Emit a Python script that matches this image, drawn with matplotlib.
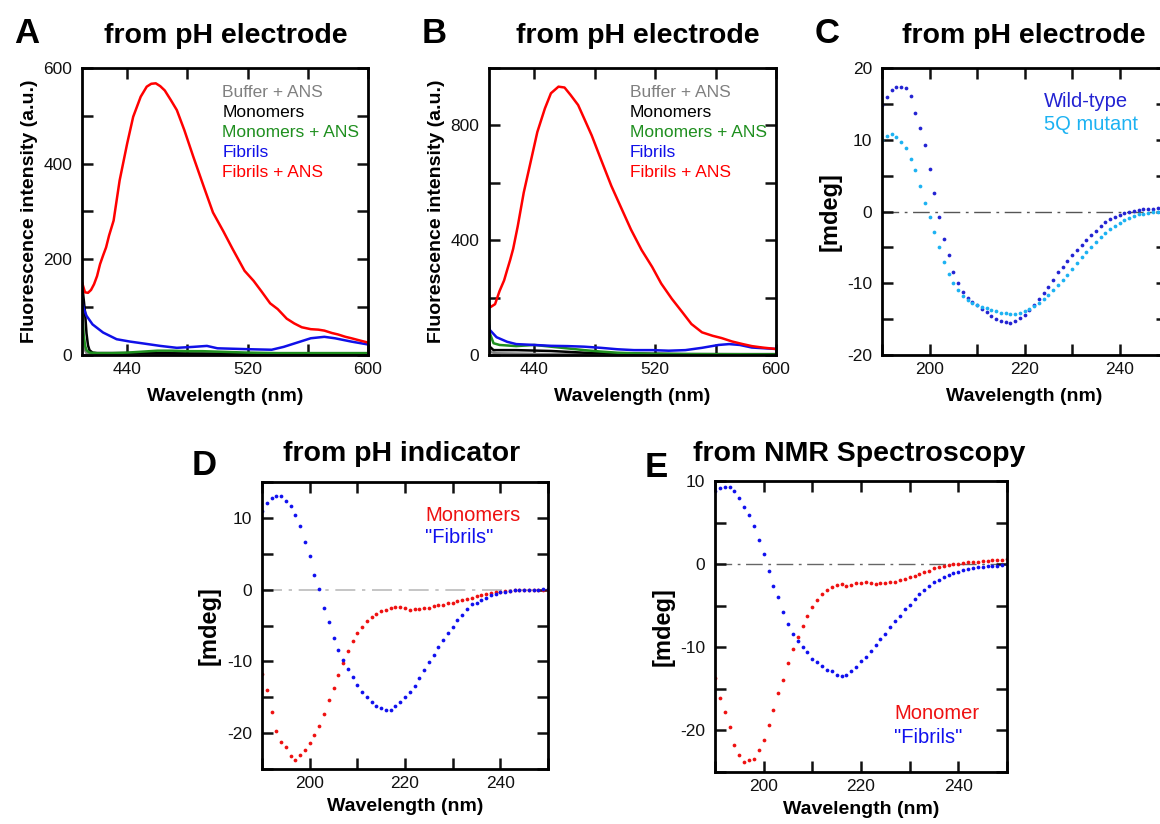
import numpy as np
import matplotlib.pyplot as plt
from matplotlib.ticker import MultipleLocator

plt.rcParams['font.family'] = ['Liberation Sans', 'DejaVu Sans']
plt.rcParams['axes.unicode_minus'] = False

W, H = 1160, 824

# ---- panel A: fluorescence, from pH electrode ----
a_red_wl = [410, 412, 414, 416, 418, 420, 422, 424, 426, 428, 431, 435, 440, 444, 449, 453, 456, 459,
            462, 465, 469, 473, 478, 484, 491, 497, 504, 510, 518, 524, 529, 535, 540, 546, 551, 556,
            562, 567, 571, 576, 580, 585, 589, 595, 600]
a_red = [152, 131, 130, 136, 148, 165, 190, 208, 225, 250, 281, 365, 442, 498, 540, 561, 567, 568,
         562, 553, 533, 512, 470, 414, 351, 298, 258, 222, 176, 155, 134, 108, 96, 76, 66, 58,
         54, 53, 51, 46, 43, 38, 35, 30, 26]
a_blue_wl = [409.5, 411, 413, 417, 424, 433, 442, 451, 462, 473, 484, 493, 500, 511, 522, 536, 544,
             553, 562, 571, 578, 589, 600]
a_blue = [127, 99, 82, 64, 47, 33, 28, 24, 19, 15, 17, 19, 14, 13, 12, 11, 17, 26, 35, 38, 35, 28, 22]
a_green_wl = [410, 411, 412, 413, 415, 420, 430, 440, 450, 460, 470, 480, 490, 500, 520, 540, 560, 580, 600]
a_green = [96, 45, 20, 10, 5, 4, 4, 5, 7, 9, 9, 8, 8, 7, 5, 4, 4, 4, 4]
a_black_wl = [410, 411, 412, 413, 414, 415, 417, 420, 450, 500, 550, 600]
a_black = [150, 120, 90, 45, 20, 10, 5, 4, 4, 3, 3, 2]
a_gray_wl = [410, 411, 412, 413, 420, 500, 600]
a_gray = [120, 40, 10, 4, 2, 2, 2]

# ---- panel B ----
b_red_wl = [409, 411, 414, 417, 420, 422, 424, 426, 429, 433, 438, 442, 447, 451, 456, 460, 464, 469,
            473, 478, 484, 491, 498, 504, 511, 518, 524, 531, 538, 544, 551, 558, 564, 571, 578, 584,
            591, 600]
b_red = [192, 167, 177, 223, 260, 296, 331, 370, 448, 566, 683, 777, 859, 912, 935, 932, 906, 871,
         824, 765, 683, 589, 507, 437, 366, 307, 249, 196, 149, 108, 79, 67, 59, 47, 38, 31, 26, 21]
b_blue_wl = [409, 410.6, 415, 422, 428, 440, 451, 462, 473, 484, 495, 506, 518, 529, 540, 551, 562,
             569, 576, 584, 600]
b_blue = [133, 87, 62, 46, 38, 35, 32, 31, 29, 25, 20, 17, 17, 15, 17, 25, 35, 38, 35, 26, 21]
b_green_wl = [409, 410.6, 413, 417, 428, 440, 451, 462, 473, 484, 495, 518, 560, 600]
b_green = [174, 75, 41, 35, 31, 35, 29, 23, 17, 12, 8, 4, 3, 2]
b_black_wl = [409, 410.5, 413, 428, 451, 473, 495, 540, 600]
b_black = [87, 29, 17, 17, 14, 8, 6, 3, 3]
b_gray_wl = [409, 411, 415, 450, 600]
b_gray = [60, 10, 6, 3, 2]

# ---- CD spectra, 190-250 nm in 1 nm steps ----
cd_wl = np.arange(190, 251)
c_wt = [14.9, 16.0, 16.9, 17.3, 17.3, 17.2, 16.1, 13.7, 11.6, 9.2, 5.9, 2.6, -0.7, -3.9, -6.1, -8.5,
        -10.0, -11.2, -12.0, -12.6, -13.1, -13.6, -14.0, -14.6, -15.0, -15.3, -15.4, -15.5, -15.2,
        -14.9, -14.4, -13.7, -13.0, -12.2, -11.4, -10.5, -9.5, -8.5, -7.7, -6.9, -6.1, -5.3, -4.7,
        -4.0, -3.3, -2.7, -2.0, -1.5, -1.1, -0.7, -0.5, -0.2, 0.0, 0.1, 0.2, 0.3, 0.4, 0.4, 0.5,
        0.5, 0.5]
c_5q = [10.0, 10.5, 10.8, 10.4, 9.7, 8.8, 7.3, 5.8, 3.5, 1.2, -0.8, -2.8, -5.0, -7.0, -8.7, -10.0,
        -11.0, -11.8, -12.4, -12.8, -13.1, -13.3, -13.5, -13.7, -13.9, -14.1, -14.2, -14.3, -14.3,
        -14.1, -13.9, -13.6, -13.2, -12.7, -12.2, -11.6, -11.0, -10.3, -9.5, -8.8, -8.0, -7.2,
        -6.4, -5.6, -4.9, -4.2, -3.6, -3.0, -2.5, -2.0, -1.6, -1.2, -0.9, -0.6, -0.4, -0.3, -0.2,
        -0.1, 0.0, 0.0, 0.0]
d_mono = [-11.8, -14.0, -17.1, -19.7, -21.3, -22.0, -23.2, -23.8, -23.0, -22.3, -21.4, -20.3, -19.0,
          -17.4, -15.4, -13.7, -11.9, -10.2, -8.6, -7.2, -6.0, -5.2, -4.4, -3.8, -3.4, -3.0, -2.8,
          -2.6, -2.4, -2.4, -2.6, -2.8, -2.7, -2.7, -2.6, -2.5, -2.3, -2.2, -2.1, -1.9, -1.8, -1.6,
          -1.4, -1.3, -1.1, -0.9, -0.7, -0.6, -0.5, -0.4, -0.3, -0.2, -0.2, -0.1, -0.1, 0.0, 0.0,
          0.0, 0.0, 0.0, 0.0]
d_fib = [10.9, 12.1, 12.8, 13.1, 13.1, 12.3, 11.7, 10.4, 8.9, 6.6, 4.7, 2.0, 0.1, -2.5, -4.5, -6.7,
         -8.4, -9.8, -11.1, -12.2, -13.3, -14.3, -15.0, -15.7, -16.2, -16.5, -16.8, -16.8, -16.2,
         -15.7, -15.0, -14.3, -13.4, -12.3, -11.2, -10.1, -9.1, -8.0, -7.0, -6.1, -5.2, -4.3, -3.5,
         -2.7, -2.0, -1.8, -1.4, -1.1, -0.8, -0.6, -0.4, -0.3, -0.2, -0.1, -0.1, 0.0, 0.0, 0.0,
         0.0, 0.1, 0.1]
e_mono = [-13.7, -16.1, -17.8, -19.6, -21.7, -23.0, -23.8, -23.6, -23.4, -22.3, -21.1, -19.3, -17.6,
          -15.5, -13.9, -11.9, -10.2, -8.8, -7.4, -6.2, -5.2, -4.3, -3.6, -3.1, -2.8, -2.5, -2.4,
          -2.6, -2.5, -2.3, -2.3, -2.2, -2.3, -2.4, -2.3, -2.3, -2.2, -2.1, -1.9, -1.8, -1.6, -1.4,
          -1.2, -1.0, -0.8, -0.5, -0.3, -0.2, -0.1, 0.0, 0.0, 0.1, 0.2, 0.2, 0.3, 0.4, 0.4, 0.5,
          0.5, 0.5, 0.6]
e_fib = [8.8, 9.2, 9.3, 9.3, 8.8, 8.0, 6.9, 5.9, 4.6, 2.9, 1.2, -0.8, -2.6, -4.0, -5.7, -7.2, -8.4,
         -9.3, -10.0, -10.6, -11.4, -11.8, -12.2, -12.7, -12.9, -13.3, -13.5, -13.3, -12.9, -12.4,
         -11.7, -11.2, -10.4, -9.7, -9.0, -8.4, -7.6, -6.8, -6.2, -5.4, -4.9, -4.2, -3.6, -3.1, -2.6,
         -2.2, -1.9, -1.6, -1.3, -1.1, -0.9, -0.7, -0.6, -0.5, -0.4, -0.3, -0.2, -0.2, -0.2, -0.1,
         0.0]

fluo_labels = ["Buffer + ANS", "Monomers", "Monomers + ANS", "Fibrils", "Fibrils + ANS"]
fluo_colors = ["#808080", "#000000", "#1f8f1f", "#1010e8", "#ff0000"]


def px_axes(fig, left, top, right, bottom):
    return fig.add_axes([left / W, 1 - bottom / H, (right - left) / W, (bottom - top) / H])


def style(ax):
    for s in ax.spines.values():
        s.set_linewidth(2)
    ax.tick_params(which="both", direction="in", top=True, right=True,
                   length=8, width=1.8, labelsize=12.5, colors="#111111")
    ax.tick_params(axis="x", pad=5)
    ax.tick_params(axis="y", pad=7)


def fig_text(fig, x, y, s, **kw):
    fig.text(x / W, 1 - y / H, s, va="baseline", **kw)


fig = plt.figure(figsize=(W / 100, H / 100), dpi=100)

# A and B
for (left, right, series, ymax, ymaj) in [
        (82, 368, [(a_gray_wl, a_gray), (a_black_wl, a_black), (a_green_wl, a_green),
                   (a_blue_wl, a_blue), (a_red_wl, a_red)], 600, 200),
        (489, 776, [(b_gray_wl, b_gray), (b_black_wl, b_black), (b_green_wl, b_green),
                    (b_blue_wl, b_blue), (b_red_wl, b_red)], 1000, 400)]:
    ax = px_axes(fig, left, 68, right, 355)
    for (wl, val), c in zip(series, fluo_colors):
        ax.plot(wl, val, color=c, lw=1.8)
    ax.set_xlim(410, 600)
    ax.set_ylim(0, ymax)
    ax.set_xticks([440, 520, 600])
    ax.xaxis.set_minor_locator(MultipleLocator(40))
    ax.yaxis.set_major_locator(MultipleLocator(ymaj))
    ax.yaxis.set_minor_locator(MultipleLocator(ymaj / 2))
    style(ax)
    ax.set_xlabel("Wavelength (nm)", fontsize=14, fontweight="bold")
    ax.set_ylabel("Fluorescence intensity (a.u.)", fontsize=14, fontweight="bold")
    ax.xaxis.set_label_coords(0.5, -0.115)
    ax.yaxis.set_label_coords(-44 / (right - left), 0.5)
    for i, (lab, c) in enumerate(zip(fluo_labels, fluo_colors)):
        ax.text(0.49, 0.899 - i * 0.07, lab, color=c, fontsize=12.5, transform=ax.transAxes)


def cd_axes(left, top, right, bottom, ylim, ymaj_labels):
    ax = px_axes(fig, left, top, right, bottom)
    ax.set_xlim(190, 250)
    ax.set_ylim(*ylim)
    ax.set_xticks([200, 220, 240])
    ax.xaxis.set_minor_locator(MultipleLocator(10))
    ax.set_yticks(ymaj_labels)
    ax.yaxis.set_minor_locator(MultipleLocator(5))
    style(ax)
    ax.set_xlabel("Wavelength (nm)", fontsize=14, fontweight="bold")
    ax.set_ylabel("[mdeg]", fontsize=17, fontweight="bold")
    return ax


# C
ax = cd_axes(882, 68, 1167, 355, (-20, 20), [-20, -10, 0, 10, 20])
ax.axhline(0, color="#555555", lw=1, ls=(0, (12, 4, 2, 4)), zorder=0)
ax.plot(cd_wl, c_wt, "o", color="#2323d2", ms=2.7, mec="none")
ax.plot(cd_wl, c_5q, "o", color="#1cb2f2", ms=2.7, mec="none")
ax.text(0.568, 0.864, "Wild-type", color="#2323d2", fontsize=14.5, transform=ax.transAxes)
ax.text(0.568, 0.784, "5Q mutant", color="#1cb2f2", fontsize=14.5, transform=ax.transAxes)
ax.xaxis.set_label_coords(0.5, -0.115)
ax.yaxis.set_label_coords(-40 / 285, 0.5)

# D
ax = cd_axes(262, 482, 548, 769, (-25, 15), [-20, -10, 0, 10])
ax.axhline(0, color="#bbbbbb", lw=1.2, ls=(0, (12, 4, 2, 4)), zorder=0)
ax.plot(cd_wl, d_mono, "o", color="#ee1111", ms=2.7, mec="none")
ax.plot(cd_wl, d_fib, "o", color="#1010ee", ms=2.7, mec="none")
ax.text(0.57, 0.865, "Monomers", color="#ee1111", fontsize=14.5, transform=ax.transAxes)
ax.text(0.57, 0.787, '"Fibrils"', color="#1010ee", fontsize=14.5, transform=ax.transAxes)
ax.xaxis.set_label_coords(0.5, -0.1)
ax.yaxis.set_label_coords(-41 / 286, 0.5)

# E
ax = cd_axes(715, 481, 1007, 772, (-25, 10), [-20, -10, 0, 10])
ax.axhline(0, color="#666666", lw=1, ls=(0, (12, 4, 2, 4)), zorder=0)
ax.plot(cd_wl, e_mono, "o", color="#ee1111", ms=2.7, mec="none")
ax.plot(cd_wl, e_fib, "o", color="#1010ee", ms=2.7, mec="none")
ax.text(0.613, 0.181, "Monomer", color="#ee1111", fontsize=14.5, transform=ax.transAxes)
ax.text(0.613, 0.101, '"Fibrils"', color="#1010ee", fontsize=14.5, transform=ax.transAxes)
ax.xaxis.set_label_coords(0.5, -0.1)
ax.yaxis.set_label_coords(-40 / 292, 0.5)

# panel letters and titles
for letter, x, y in [("A", 14, 43), ("B", 422, 43), ("C", 815, 43), ("D", 192, 475), ("E", 645, 477)]:
    fig_text(fig, x, y, letter, fontsize=25, fontweight="bold")
for title, x, y in [("from pH electrode", 226, 43), ("from pH electrode", 638, 43),
                    ("from pH electrode", 1024, 43), ("from pH indicator", 402, 461),
                    ("from NMR Spectroscopy", 859, 461)]:
    fig_text(fig, x, y, title, fontsize=20.5, fontweight="bold", ha="center")

fig.savefig("out.png", dpi=100)
